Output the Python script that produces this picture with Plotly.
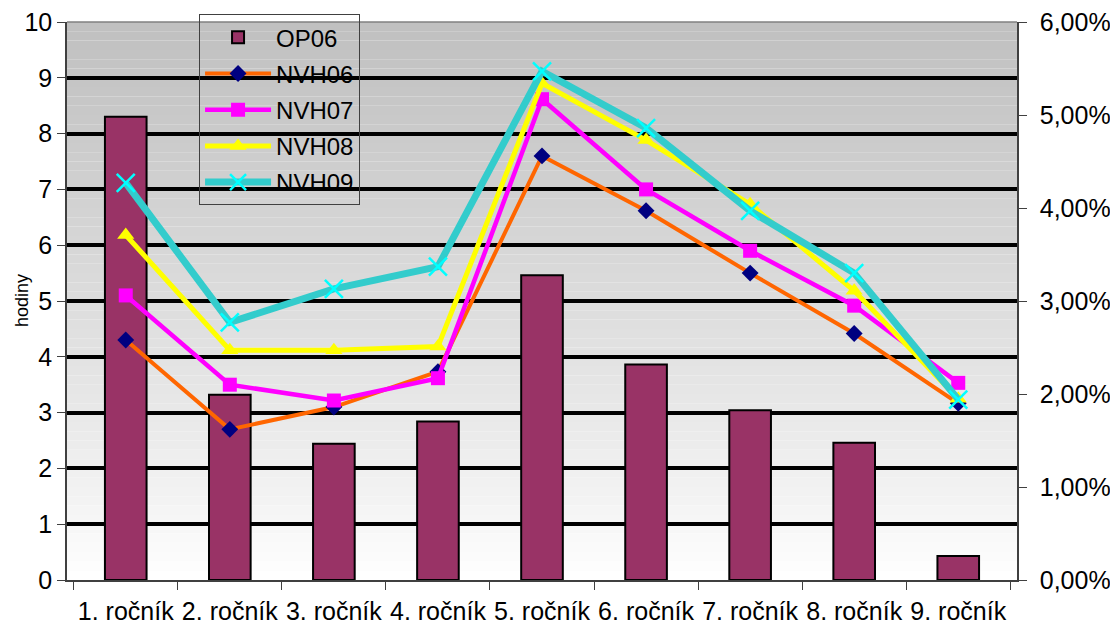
import plotly.graph_objects as go

categories = ["1. ročník", "2. ročník", "3. ročník", "4. ročník", "5. ročník",
              "6. ročník", "7. ročník", "8. ročník", "9. ročník"]
op06 = [8.3, 3.32, 2.44, 2.84, 5.46, 3.86, 3.04, 2.46, 0.43]
nvh06 = [0.0258, 0.0162, 0.0186, 0.0224, 0.0456, 0.0397, 0.0330, 0.0265, 0.0190]
nvh07 = [0.0306, 0.0210, 0.0193, 0.0217, 0.0517, 0.0420, 0.0354, 0.0295, 0.0212]
nvh08 = [0.0371, 0.0247, 0.0247, 0.0251, 0.0534, 0.0473, 0.0404, 0.0311, 0.0195]
nvh09 = [0.0427, 0.0277, 0.0313, 0.0337, 0.0547, 0.0486, 0.0397, 0.0330, 0.0194]

FONT = "Liberation Sans, Arial, sans-serif"

fig = go.Figure()
fig.add_trace(go.Bar(
    x=categories, y=op06, name="OP06", yaxis="y", legendgroup="a",
    marker=dict(color="#993366", line=dict(color="#000000", width=2)),
))
fig.add_trace(go.Scatter(
    x=categories, y=nvh06, name="NVH06", yaxis="y2", mode="lines+markers", legendgroup="b",
    line=dict(color="#FF6600", width=4),
    marker=dict(symbol="diamond", size=13, color="#000080"),
))
fig.add_trace(go.Scatter(
    x=categories, y=nvh07, name="NVH07", yaxis="y2", mode="lines+markers", legendgroup="c",
    line=dict(color="#FF00FF", width=4.5),
    marker=dict(symbol="square", size=14, color="#FF00FF"),
))
fig.add_trace(go.Scatter(
    x=categories, y=nvh08, name="NVH08", yaxis="y2", mode="lines+markers", legendgroup="d",
    line=dict(color="#FFFF00", width=5),
    marker=dict(symbol="triangle-up", size=15, color="#FFFF00"),
))
fig.add_trace(go.Scatter(
    x=categories, y=nvh09, name="NVH09", yaxis="y2", mode="lines+markers", legendgroup="e",
    line=dict(color="#33CCCC", width=7),
    marker=dict(symbol="x-thin", size=18, color="#00FFFF",
                line=dict(color="#00FFFF", width=2.5)),
))

# vertical gray gradient for the plot background
shapes = []
n = 60
for i in range(n):
    t = i / (n - 1)
    c = int(round(255 - (255 - 192) * t ** 0.85))
    shapes.append(dict(
        type="rect", xref="paper", yref="paper",
        x0=0, x1=1, y0=i / n, y1=(i + 1) / n,
        fillcolor=f"rgb({c},{c},{c})", line=dict(width=0), layer="below",
    ))
shapes.append(dict(type="line", xref="paper", yref="paper", x0=0, x1=1, y0=1, y1=1,
                   line=dict(color="#808080", width=1.5), layer="above"))

fig.update_layout(
    width=1110, height=622,
    margin=dict(l=59, r=101, t=14, b=50, autoexpand=False),
    paper_bgcolor="white", plot_bgcolor="rgba(0,0,0,0)",
    separators=", ",
    font=dict(family=FONT, color="#000000", size=24),
    bargap=0.6,
    shapes=shapes,
    showlegend=True,
    legend=dict(
        x=0.139, y=1.014, xanchor="left", yanchor="top",
        bgcolor="rgba(0,0,0,0)", bordercolor="#404040", borderwidth=1,
        font=dict(family=FONT, size=24), tracegroupgap=2, itemwidth=66,
    ),
    annotations=[dict(
        text="hodiny", xref="paper", yref="paper", x=0, y=0.5,
        xanchor="center", yanchor="middle", xshift=-45, textangle=-90,
        showarrow=False, font=dict(family=FONT, size=18),
    )],
    xaxis=dict(
        type="category", tickson="boundaries", ticks="outside", ticklen=8,
        tickcolor="#404040", showline=True, linecolor="#404040", linewidth=1.5,
        showgrid=False, tickfont=dict(size=25), tickangle=0, automargin=False,
        ticklabelstandoff=8,
    ),
    yaxis=dict(
        range=[0, 10], dtick=1, ticks="outside", ticklen=8, tickcolor="#404040",
        showline=True, linecolor="#404040", linewidth=1.5,
        showgrid=True, gridcolor="#000000", gridwidth=4,
        zeroline=False, tickfont=dict(size=25), automargin=False,
        ticklabeloverflow="allow",
    ),
    yaxis2=dict(
        range=[0, 0.06], dtick=0.01, tickformat=".2%", overlaying="y", side="right",
        ticks="outside", ticklen=8, tickcolor="#404040",
        showline=True, linecolor="#404040", linewidth=1.5,
        showgrid=False, zeroline=False, tickfont=dict(size=25), automargin=False,
        ticklabeloverflow="allow", ticklabelstandoff=8,
    ),
)

fig.write_html("out.html")
